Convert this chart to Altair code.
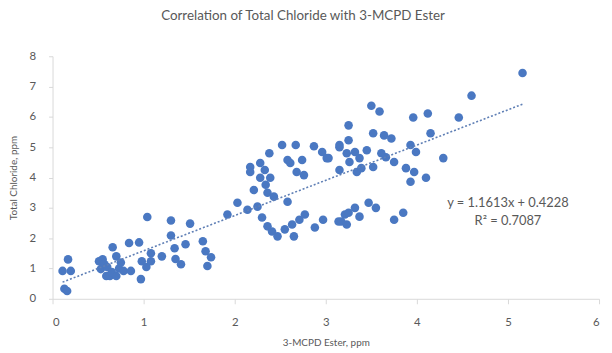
import altair as alt
import pandas as pd

x_vals = [0.11, 0.13, 0.16, 0.17, 0.20,
          0.51, 0.53, 0.55, 0.57, 0.59, 0.60, 0.63, 0.65, 0.66, 0.70, 0.70, 0.73, 0.75, 0.78,
          0.84, 0.86, 0.95, 0.97, 0.98, 1.03, 1.04, 1.08, 1.08,
          1.20, 1.30, 1.30, 1.34, 1.35, 1.41, 1.46, 1.51, 1.65, 1.68, 1.74, 1.70, 1.92,
          2.14, 2.25, 2.30, 2.36, 2.41, 2.47, 2.55, 2.63, 2.71, 2.77, 2.65, 2.88, 2.97, 3.14, 3.21, 2.58, 2.03,
          2.38, 2.52, 2.67, 2.87, 2.96, 3.01, 2.58, 2.61, 2.74, 2.68, 2.76, 2.17, 2.28, 2.17, 2.33, 2.28, 2.39,
          2.34, 2.21, 2.36, 2.43, 3.15, 3.15,
          3.17, 3.23, 3.25, 3.32, 3.37, 3.47, 3.55, 3.75, 3.85,
          3.50, 3.59, 3.96, 4.12, 4.15, 3.25, 3.25, 3.52, 3.64, 3.72, 3.15, 3.03, 3.23, 3.32, 3.45, 3.26, 3.37,
          3.34, 3.39, 3.52, 3.61, 3.66, 3.75, 3.93, 3.99, 3.88, 3.97, 3.93, 4.10, 4.29, 4.46, 4.60, 5.16]
y_vals = [0.92, 0.33, 0.26, 1.30, 0.92,
          1.24, 0.98, 1.30, 1.14, 0.75, 1.05, 0.75, 0.88, 1.70, 1.40, 0.75, 1.00, 1.20, 0.92,
          1.84, 0.92, 1.86, 0.65, 1.24, 1.05, 2.70, 1.24, 1.50,
          1.40, 2.58, 2.09, 1.67, 1.31, 1.14, 1.80, 2.48, 1.90, 1.57, 1.37, 1.08, 2.78,
          2.94, 3.04, 2.68, 2.39, 2.22, 2.06, 2.29, 2.45, 2.61, 2.78, 2.06, 2.35, 2.61, 2.55, 2.78, 3.20, 3.17,
          4.80, 5.07, 5.07, 5.03, 4.84, 4.64, 4.58, 4.48, 4.58, 4.18, 4.08, 4.35, 4.48, 4.18, 4.25, 3.99, 3.99,
          3.76, 3.59, 3.50, 3.37, 4.25, 5.07,
          2.55, 2.45, 2.84, 3.00, 2.71, 3.17, 3.00, 2.61, 2.84,
          6.37, 6.18, 5.98, 6.11, 5.46, 5.72, 5.23, 5.46, 5.39, 5.29, 5.00, 4.64, 4.80, 4.84, 4.90, 4.51, 4.64,
          4.18, 4.31, 4.35, 4.80, 4.67, 4.51, 5.07, 4.84, 4.31, 4.18, 3.86, 3.99, 4.64, 5.98, 6.70, 7.45]

x_ticks = [0, 1, 2, 3, 4, 5, 6]
y_ticks = [0, 1, 2, 3, 4, 5, 6, 7, 8]

trend_x = [0.11, 5.16]
trend_y = [0.55, 6.42]

eq_text = "y = 1.1613x + 0.4228"
r2_text = "R² = 0.7087"

pts = pd.DataFrame({"x": x_vals, "y": y_vals})
trend = pd.DataFrame({"x": trend_x, "y": trend_y})

FONT = "Lato"
GRAY = "#595959"

xscale = alt.Scale(domain=[0, 6], nice=False, zero=True)
yscale = alt.Scale(domain=[0, 8], nice=False, zero=True)

xaxis = alt.Axis(values=x_ticks, format="d", title="3-MCPD Ester, ppm", grid=False,
                 domainColor="#d9d9d9", tickColor="#d9d9d9", tickSize=5, labelOverlap=False,
                 labelFont=FONT, labelFontSize=11.5, labelColor=GRAY, labelPadding=13,
                 titleFont=FONT, titleFontSize=10, titleFontWeight="normal", titleColor=GRAY,
                 titlePadding=10)
yaxis = alt.Axis(values=y_ticks, format="d", title="Total Chloride, ppm", grid=False,
                 domainColor="#d9d9d9", tickColor="#d9d9d9", tickSize=4, labelOverlap=False,
                 labelFont=FONT, labelFontSize=11.5, labelColor=GRAY, labelPadding=13,
                 titleFont=FONT, titleFontSize=10, titleFontWeight="normal", titleColor=GRAY,
                 titlePadding=11)

points = alt.Chart(pts).mark_circle(size=75, color="#4a78c2", opacity=1).encode(
    x=alt.X("x:Q", scale=xscale, axis=xaxis),
    y=alt.Y("y:Q", scale=yscale, axis=yaxis),
)

line = alt.Chart(trend).mark_line(color="#5f7fb5", strokeDash=[2, 2], strokeWidth=1.6).encode(
    x=alt.X("x:Q", scale=xscale, axis=xaxis),
    y=alt.Y("y:Q", scale=yscale, axis=yaxis),
)

eq = alt.Chart(pd.DataFrame({"t": [eq_text]})).mark_text(
    font=FONT, fontSize=13, color=GRAY, align="center", baseline="middle"
).encode(x=alt.value(460), y=alt.value(148), text="t:N")

r2 = alt.Chart(pd.DataFrame({"t": [r2_text]})).mark_text(
    font=FONT, fontSize=13, color=GRAY, align="center", baseline="middle"
).encode(x=alt.value(460), y=alt.value(166), text="t:N")

chart = alt.layer(points, line, eq, r2).properties(
    width=552, height=245,
    title=alt.TitleParams("Correlation of Total Chloride with 3-MCPD Ester", font=FONT, fontSize=13.5,
                          fontWeight="normal", color=GRAY, anchor="middle", offset=28, dx=-23),
    autosize=alt.AutoSizeParams(type="none"),
    padding={"left": 45, "top": 47, "right": 5, "bottom": 52},
).configure_view(stroke=None)

chart.save("out.html", embed_options={"renderer": "svg", "actions": False})
